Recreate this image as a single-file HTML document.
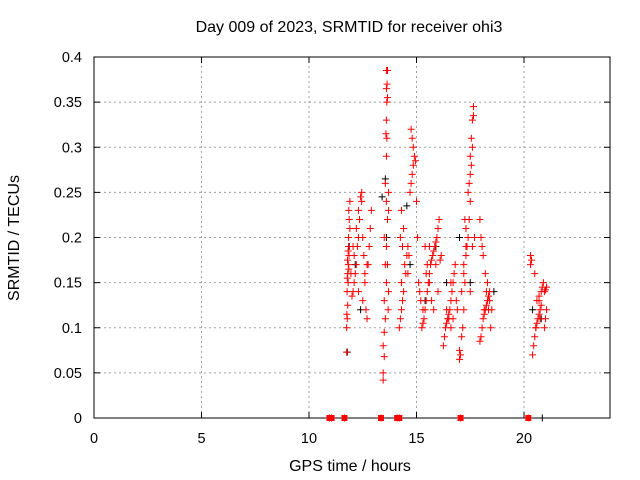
<!DOCTYPE html>
<html><head><meta charset="utf-8"><style>
body{margin:0;background:#fff}
svg{display:block;font-family:"Liberation Sans",sans-serif;font-size:14.5px}
</style></head><body>
<svg id="chart" width="640" height="480" viewBox="0 0 640 480">
<rect width="640" height="480" fill="#fff"/>
<g id="grid"></g>
<g id="axes"></g>
<g id="black"></g>
<g id="red"></g>
<text x="349" y="32" text-anchor="middle" font-size="16">Day 009 of 2023, SRMTID for receiver ohi3</text>
<text x="350" y="471" text-anchor="middle" font-size="16">GPS time / hours</text>
<text transform="translate(19,238) rotate(-90)" text-anchor="middle" font-size="16">SRMTID / TECUs</text>
</svg>
<script>
const xTicks=[0,5,10,15,20];
const yTicks=[0,0.05,0.1,0.15,0.2,0.25,0.3,0.35,0.4];
const yTickLabels=["0","0.05","0.1","0.15","0.2","0.25","0.3","0.35","0.4"];
const redHours=[
11.75,11.75,11.78,11.76,11.8,11.77,11.82,11.78,11.8,11.85,11.83,11.79,11.86,11.82,11.88,11.84,11.9,11.87,11.85,11.9,
12.0,12.05,12.1,12.15,12.2,12.1,12.25,12.3,12.2,12.35,12.3,12.4,12.45,12.5,12.55,12.6,12.65,12.7,12.5,12.6,12.75,12.8,12.85,12.9,
13.45,13.45,13.5,13.45,13.5,13.55,13.5,13.6,13.55,13.6,13.5,13.65,13.6,13.55,13.6,13.62,13.58,13.6,13.62,13.65,13.6,13.63,13.6,13.65,13.7,13.7,13.65,13.7,13.68,
14.2,14.25,14.3,14.35,14.4,14.3,14.5,14.45,14.55,14.6,14.25,14.4,14.3,14.7,14.75,14.8,14.85,14.9,14.85,14.8,14.75,14.95,15.0,15.05,15.1,15.15,15.2,
15.25,15.3,15.35,15.4,15.45,15.5,15.55,15.6,15.65,15.7,15.75,15.8,15.85,15.9,15.95,16.0,16.05,15.4,15.5,15.6,15.7,15.8,16.1,16.15,
16.25,16.3,16.35,16.4,16.45,16.5,16.55,16.6,16.65,16.7,16.75,16.8,16.5,16.6,16.85,16.9,
17.0,17.05,17.0,17.1,17.15,17.2,17.1,17.25,17.2,17.3,17.35,17.4,17.3,17.45,17.5,17.4,17.45,17.5,17.55,17.5,17.6,17.55,17.6,17.65,17.65,17.7,17.3,17.2,17.5,
17.95,18.0,18.05,18.1,18.15,18.2,18.25,18.3,18.35,18.4,18.3,18.2,18.1,18.05,18.0,17.95,18.45,18.5,18.4,
20.4,20.45,20.5,20.55,20.6,20.65,20.7,20.75,20.8,20.6,20.7,20.8,20.85,20.9,20.5,20.3,20.35,20.3,20.95,21.0,21.05,20.95,21.0,21.05,
11.95,12.05,12.3,12.45,12.7,14.35,14.6,14.65,15.3,15.45,15.6,15.9,16.0,16.4,16.6,16.7,17.25,17.6,18.15,18.25,18.35,20.55,20.7,20.75];
const redValues=[
0.073,0.10,0.11,0.115,0.125,0.14,0.15,0.155,0.16,0.165,0.17,0.175,0.18,0.185,0.19,0.20,0.21,0.22,0.23,0.24,
0.135,0.14,0.15,0.16,0.17,0.18,0.19,0.20,0.21,0.22,0.23,0.245,0.25,0.20,0.18,0.16,0.12,0.11,0.13,0.15,0.17,0.19,0.21,0.23,
0.042,0.05,0.068,0.08,0.095,0.11,0.13,0.15,0.17,0.19,0.20,0.22,0.24,0.26,0.29,0.31,0.315,0.33,0.35,0.355,0.365,0.37,0.385,0.385,0.25,0.23,0.17,0.14,0.12,
0.10,0.11,0.12,0.13,0.14,0.15,0.16,0.17,0.18,0.19,0.20,0.21,0.23,0.25,0.26,0.27,0.28,0.29,0.30,0.31,0.32,0.285,0.24,0.20,0.15,0.14,0.13,
0.10,0.105,0.11,0.12,0.13,0.14,0.15,0.16,0.17,0.175,0.18,0.185,0.19,0.195,0.20,0.21,0.22,0.19,0.17,0.15,0.13,0.12,0.175,0.18,
0.08,0.09,0.10,0.105,0.11,0.115,0.12,0.13,0.14,0.15,0.16,0.17,0.11,0.10,0.13,0.12,
0.065,0.07,0.075,0.09,0.10,0.12,0.14,0.15,0.17,0.18,0.19,0.20,0.21,0.22,0.24,0.25,0.26,0.27,0.28,0.29,0.30,0.31,0.33,0.335,0.345,0.20,0.19,0.16,0.14,
0.085,0.09,0.10,0.11,0.115,0.12,0.125,0.13,0.135,0.14,0.15,0.16,0.18,0.19,0.20,0.22,0.10,0.12,0.13,
0.07,0.08,0.09,0.10,0.105,0.11,0.115,0.12,0.125,0.13,0.135,0.14,0.145,0.15,0.16,0.17,0.175,0.18,0.10,0.11,0.12,0.14,0.142,0.145,
0.16,0.19,0.14,0.24,0.17,0.19,0.16,0.18,0.12,0.16,0.19,0.17,0.14,0.12,0.15,0.11,0.22,0.19,0.12,0.14,0.12,0.10,0.13,0.11];
const blackHours=[11.78,11.85,12.15,12.4,13.4,13.55,13.6,14.55,14.7,15.4,15.9,16.4,17.0,17.5,18.6,20.4,20.8,20.85];
const blackValues=[0.073,0.19,0.17,0.12,0.245,0.265,0.2,0.235,0.17,0.13,0.19,0.15,0.2,0.15,0.14,0.12,0.11,0];
const zeroHours=[10.95,11.05,11.65,13.35,14.1,14.2,17.05,20.2];
const NS="http://www.w3.org/2000/svg";
const X0=94,X1=610,Y0=418,Y1=57;
function xs(h){return X0+(h/24)*(X1-X0);}
function ys(v){return Y0-(v/0.4)*(Y0-Y1);}
function mk(tag,attrs,parent){const e=document.createElementNS(NS,tag);for(const k in attrs)e.setAttribute(k,attrs[k]);parent.appendChild(e);return e;}
const grid=document.getElementById('grid'),axes=document.getElementById('axes');
xTicks.forEach((t,i)=>{
  const x=xs(t);
  if(t>0){const g=mk('line',{x1:x,x2:x,y1:Y0,y2:Y1,stroke:'#a0a0a0','stroke-dasharray':'2,3'},grid);
  
  }
  const tl=mk('text',{x:x,y:443,'text-anchor':'middle'},axes);tl.textContent=t;
  
  
  mk('line',{x1:x,x2:x,y1:Y0,y2:Y0-6,stroke:'#000'},axes);
  mk('line',{x1:x,x2:x,y1:Y1,y2:Y1+6,stroke:'#000'},axes);
});
yTicks.forEach((t,i)=>{
  const y=ys(t);
  if(t>0&&t<0.4){const g=mk('line',{x1:X0,x2:X1,y1:y,y2:y,stroke:'#a0a0a0','stroke-dasharray':'2,3'},grid);
  
  }
  const tl=mk('text',{x:82,y:y+5,'text-anchor':'end'},axes);tl.textContent=yTickLabels[i];
  
  
  mk('line',{x1:X0,x2:X0+6,y1:y,y2:y,stroke:'#000'},axes);
  mk('line',{x1:X1,x2:X1-6,y1:y,y2:y,stroke:'#000'},axes);
});
const fr=mk('rect',{x:X0,y:Y1,width:X1-X0,height:Y0-Y1,fill:'none',stroke:'#000'},axes);


function plus(g,h,v,c){const x=xs(h),y=ys(v);
  const p=mk('path',{d:`M${x-3.5},${y}H${x+3.5}M${x},${y-3.5}V${y+3.5}`,stroke:c,'stroke-width':1,fill:'none'},g);
  return p;}
const bg=document.getElementById('black');
blackHours.forEach((h,i)=>{const p=plus(bg,h,blackValues[i],'#000');
  
  });
const rg=document.getElementById('red');
redHours.forEach((h,i)=>{const p=plus(rg,h,redValues[i],'#f00');
  
  });
zeroHours.forEach(h=>{const p=plus(rg,h,0,'#f00');
  
  
  const r=mk('rect',{x:xs(h)-3,y:Y0-3,width:6,height:6,fill:'#f00'},rg);
  
  });
</script>
</body></html>
